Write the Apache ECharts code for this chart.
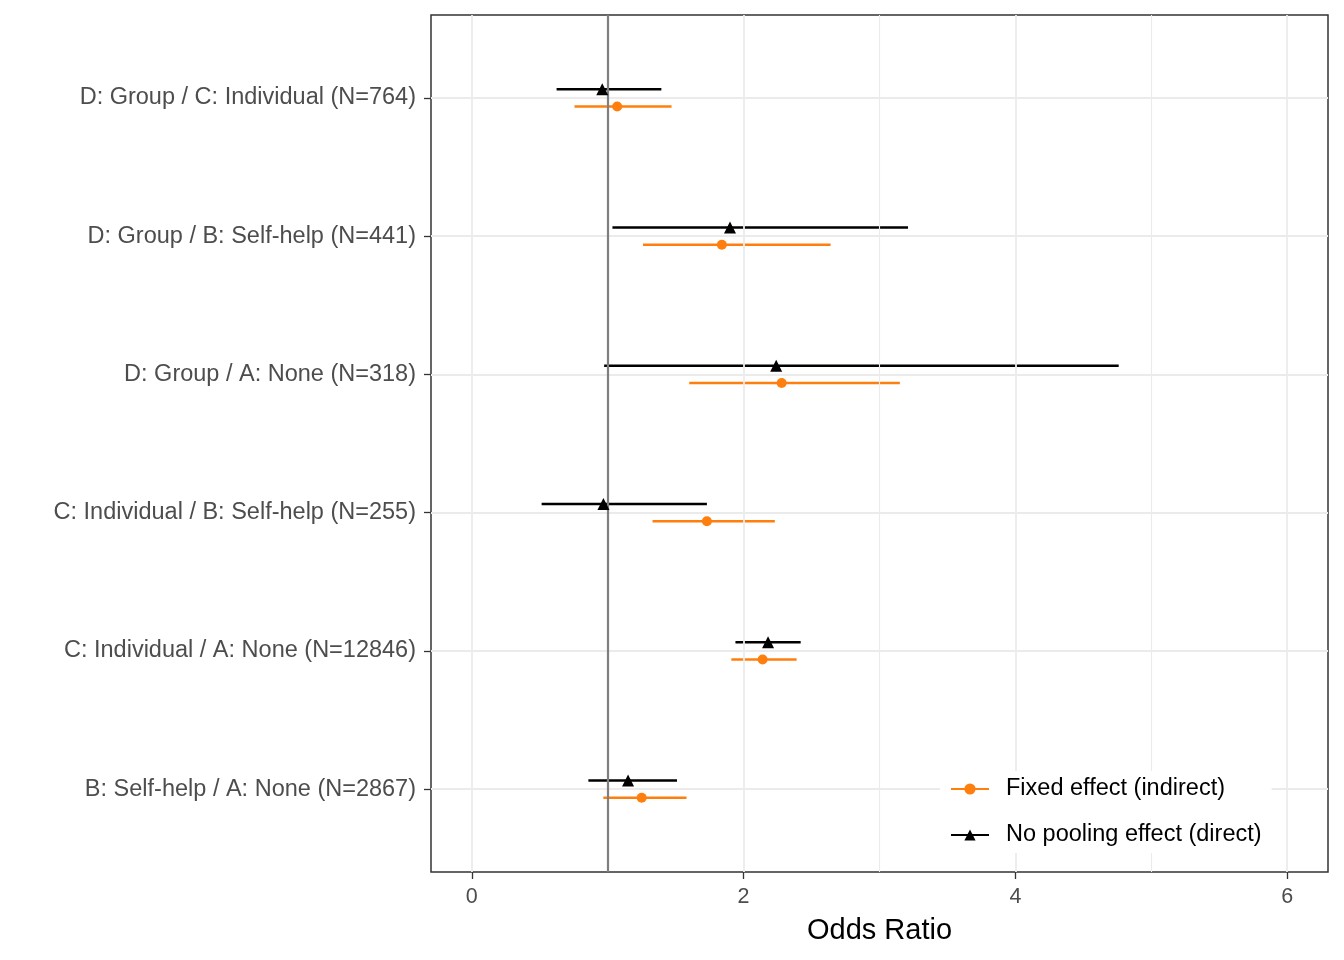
<!DOCTYPE html>
<html>
<head>
<meta charset="utf-8">
<title>Odds Ratio</title>
<script src="https://cdn.jsdelivr.net/npm/echarts@6/dist/echarts.min.js"></script>
<style>
    html, body { margin: 0; padding: 0; background: #fff; }
    #main { width: 1344px; height: 960px; }
</style>
</head>
<body>
<div id="main"></div>
<script>
    // 类别 (top to bottom)
    let categories = [
        'D: Group / C: Individual (N=764)',
        'D: Group / B: Self-help (N=441)',
        'D: Group / A: None (N=318)',
        'C: Individual / B: Self-help (N=255)',
        'C: Individual / A: None (N=12846)',
        'B: Self-help / A: None (N=2867)'
    ];

    // Fixed effect (indirect)
    let fixedEst = [1.07, 1.84, 2.28, 1.73, 2.14, 1.25];
    let fixedLo = [0.756, 1.26, 1.60, 1.33, 1.91, 0.968];
    let fixedHi = [1.47, 2.64, 3.15, 2.23, 2.39, 1.58];

    // No pooling effect (direct)
    let directEst = [0.96, 1.90, 2.24, 0.969, 2.18, 1.15];
    let directLo = [0.624, 1.035, 0.974, 0.514, 1.94, 0.858];
    let directHi = [1.395, 3.21, 4.76, 1.73, 2.42, 1.51];

    let xTicks = [0, 2, 4, 6];
    let xMinor = [1, 3, 5];
    let refLine = 1;

    let fixedName = 'Fixed effect (indirect)';
    let directName = 'No pooling effect (direct)';
    let orange = '#FF7F0E';
    let black = '#000000';
    let dodge = 0.0625;
    let yPos = categories.map(function (c, i) { return i + 1; });

    let myChart = echarts.init(document.getElementById('main'));

    function barSeries(lo, hi, shift, color) {
        return {
            type: 'custom',
            z: 3,
            silent: true,
            renderItem: function (params, api) {
                let a = api.coord([api.value(0), api.value(2)]);
                let b = api.coord([api.value(1), api.value(2)]);
                return {
                    type: 'line',
                    shape: {x1: a[0], y1: a[1], x2: b[0], y2: b[1]},
                    style: {stroke: color, lineWidth: 2.6}
                };
            },
            data: lo.map(function (v, i) { return [v, hi[i], yPos[i] + shift]; })
        };
    }

    function pointSeries(est, shift, color, symbol, size) {
        return {
            type: 'scatter',
            z: 5,
            silent: true,
            symbol: symbol,
            symbolSize: size,
            itemStyle: {color: color, opacity: 1},
            data: est.map(function (v, i) { return [v, yPos[i] + shift]; })
        };
    }

    let gridLines = [];
    xTicks.forEach(function (v) {
        gridLines.push({xAxis: v, lineStyle: {color: '#EBEBEB', width: 1.8, type: 'solid'}});
    });
    xMinor.forEach(function (v) {
        gridLines.push({xAxis: v, lineStyle: {color: '#EBEBEB', width: 1.1, type: 'solid'}});
    });
    yPos.forEach(function (v) {
        gridLines.push({yAxis: v, lineStyle: {color: '#EBEBEB', width: 1.8, type: 'solid'}});
    });

    myChart.setOption({
        animation: false,
        textStyle: {fontFamily: 'Liberation Sans'},
        grid: {
            left: 431, right: 16, top: 15, bottom: 88,
            show: true, borderColor: '#333333', borderWidth: 1.5, backgroundColor: '#fff'
        },
        legend: {
            data: [fixedName, directName],
            orient: 'vertical',
            left: 940,
            top: 771,
            z: 20,
            itemWidth: 38,
            itemHeight: 14,
            itemGap: 22,
            padding: [6, 10],
            backgroundColor: '#fff',
            textStyle: {fontSize: 23.5, color: '#000', fontFamily: 'Liberation Sans', padding: [0, 0, 0, 12]},
            selectedMode: false
        },
        xAxis: {
            type: 'value',
            min: -0.3,
            max: 6.3,
            name: 'Odds Ratio',
            nameLocation: 'middle',
            nameGap: 44,
            nameTextStyle: {fontSize: 29, color: '#000'},
            axisLine: {show: false, onZero: false},
            axisTick: {show: true, length: 7, customValues: xTicks, lineStyle: {color: '#333', width: 1.3}},
            axisLabel: {customValues: xTicks, fontSize: 21.5, color: '#4D4D4D', margin: 14},
            splitLine: {show: false}
        },
        yAxis: {
            type: 'value',
            min: 0.4,
            max: 6.6,
            inverse: true,
            axisLine: {show: false, onZero: false},
            axisTick: {show: true, length: 7, customValues: yPos, lineStyle: {color: '#333', width: 1.3}},
            axisLabel: {
                customValues: yPos,
                fontSize: 23.5,
                color: '#4D4D4D',
                margin: 15,
                formatter: function (v) { return categories[Math.round(v) - 1]; }
            },
            splitLine: {show: false}
        },
        series: [
            {
                type: 'line',
                data: [],
                z: 1,
                silent: true,
                markLine: {symbol: 'none', silent: true, label: {show: false}, animation: false, data: gridLines}
            },
            barSeries(fixedLo, fixedHi, dodge, orange),
            barSeries(directLo, directHi, -dodge, black),
            {
                type: 'line',
                data: [],
                z: 4,
                silent: true,
                markLine: {
                    symbol: 'none', silent: true, label: {show: false}, animation: false,
                    data: [{xAxis: refLine, lineStyle: {color: '#7F7F7F', width: 2.2, type: 'solid'}}]
                }
            },
            pointSeries(fixedEst, dodge, orange, 'circle', 10),
            pointSeries(directEst, -dodge, black, 'triangle', 12),
            {
                name: fixedName, type: 'line', data: [],
                symbol: 'circle', symbolSize: 10,
                itemStyle: {color: orange}, lineStyle: {color: orange, width: 2.8}
            },
            {
                name: directName, type: 'line', data: [],
                symbol: 'triangle', symbolSize: 12,
                itemStyle: {color: black}, lineStyle: {color: black, width: 2.8}
            }
        ]
    });
</script>
</body>
</html>
